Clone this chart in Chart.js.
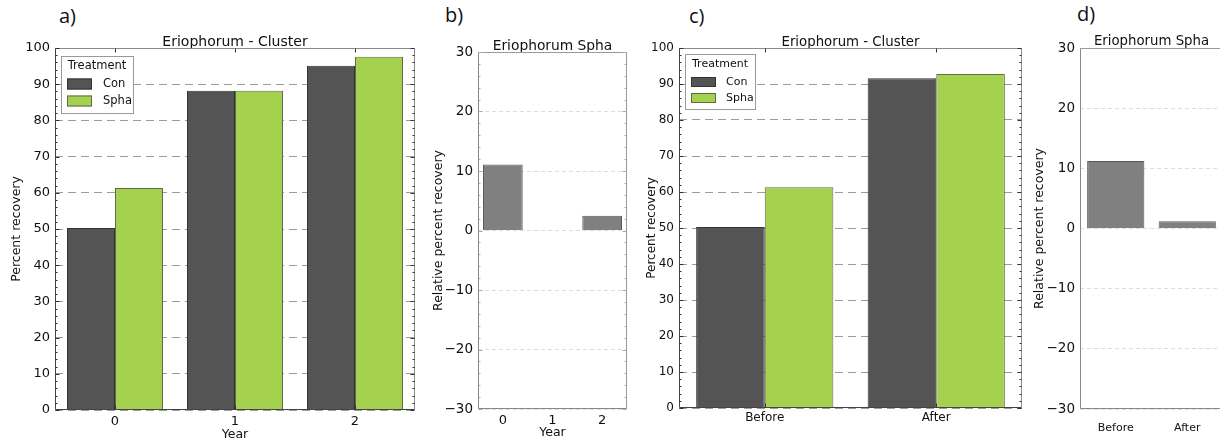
<!DOCTYPE html>
<html><head><meta charset="utf-8">
<script src="https://cdn.jsdelivr.net/npm/chart.js@4.4.0/dist/chart.umd.min.js"></script>
<style>
html,body{margin:0;padding:0;background:#fff;overflow:hidden;width:1220px;height:442px;}
.cv{position:absolute;top:0;}
.lab{position:absolute;font-family:'Open Sans',sans-serif;font-size:20px;color:#111;line-height:20px;}
</style></head><body>
<div class="lab" style="left:59px;top:6px">a)</div>
<div class="lab" style="left:445px;top:5px">b)</div>
<div class="lab" style="left:689px;top:6px">c)</div>
<div class="lab" style="left:1077px;top:4px">d)</div>
<canvas id="ca" class="cv" style="left:0px;width:430px;height:442px" width="430" height="442"></canvas>
<canvas id="cb" class="cv" style="left:425px;width:210px;height:442px" width="210" height="442"></canvas>
<canvas id="cc" class="cv" style="left:635px;width:390px;height:442px" width="390" height="442"></canvas>
<canvas id="cd" class="cv" style="left:1022px;width:205px;height:442px" width="205" height="442"></canvas>
<script>
// ---------------- data ----------------
const yearCats = ['0', '1', '2'];
const periodCats = ['Before', 'After'];
const yearCon = [50.3, 88.2, 95.1];
const yearSpha = [61.3, 88.2, 97.6];
const yearRel = [11.1, 0.1, 2.5];
const periodCon = [50.3, 91.6];
const periodSpha = [61.3, 92.8];
const periodRel = [11.2, 1.2];
const seriesNames = ['Con', 'Spha'];
const pctRange = [0, 100];
const relRange = [-30, 30];

// ---------------- styles ----------------
const FONT = 'DejaVu Sans';
const TXT = '#111';
const CON_FILL = '#545454', CON_EDGE = '#333333';
const SPHA_FILL = '#a4d24f', SPHA_EDGE = '#5f6a4a';
const REL_FILL = '#808080', REL_EDGE = '#555555';

function fmtTick(v) { return v < 0 ? '\u2212' + Math.abs(v) : String(v); }

const panelTitle = {
  id: 'panelTitle',
  afterDraw(chart, args, o) {
    if (!o.text) return;
    const { ctx, chartArea: a } = chart;
    ctx.save();
    ctx.font = o.size + 'px ' + FONT;
    ctx.fillStyle = TXT;
    ctx.textAlign = 'center';
    ctx.textBaseline = 'alphabetic';
    ctx.fillText(o.text, (a.left + a.right) / 2, a.top - o.gap);
    ctx.restore();
  }
};

const framePlugin = {
  id: 'frame',
  afterDraw(chart, args, o) {
    const { ctx, chartArea: a } = chart;
    const x = chart.scales.x, y = chart.scales.y;
    const L = Math.round(a.left) + 0.5, R = Math.round(a.right) - 0.5;
    const T = Math.round(a.top) + 0.5, B = Math.round(a.bottom) - 0.5;
    ctx.save();
    ctx.lineWidth = 1;
    function seg(x1, y1, x2, y2, c) { ctx.strokeStyle = c; ctx.beginPath(); ctx.moveTo(x1, y1); ctx.lineTo(x2, y2); ctx.stroke(); }
    seg(L, T, R, T, o.light);
    seg(R, T, R, B, o.light);
    seg(L, T, L, B, o.dark);
    seg(L, B, R, B, o.dark);
    if (o.minor) {
      for (let v = y.min; v <= y.max + 1e-9; v += o.minor) {
        const py = Math.round(y.getPixelForValue(v)) + 0.5;
        const isMaj = Math.abs(Math.round(v)) % o.major === 0;
        const len = isMaj ? 4 : 2;
        seg(L, py, L + len, py, o.tick);
        seg(R - len, py, R, py, o.tick);
      }
    }
    if (o.xTicks) {
      for (let i = 0; i < x.ticks.length; i++) {
        const px = Math.round(x.getPixelForTick(i)) + 0.5;
        seg(px, T, px, T + 4, o.tick);
        seg(px, B, px, B - 4, o.tick);
      }
    }
    ctx.restore();
  }
};

const boxLegend = {
  id: 'boxLegend',
  afterDraw(chart, args, o) {
    if (!o.show) return;
    const { ctx, chartArea: a } = chart;
    const x0 = Math.round(a.left + o.dx), y0 = Math.round(a.top + o.dy);
    ctx.save();
    ctx.fillStyle = '#fff';
    ctx.fillRect(x0, y0, o.w, o.h);
    ctx.strokeStyle = '#9a9a9a';
    ctx.lineWidth = 1;
    ctx.strokeRect(x0 + 0.5, y0 + 0.5, o.w, o.h);
    ctx.font = o.size + 'px ' + FONT;
    ctx.fillStyle = TXT;
    ctx.textAlign = 'center';
    ctx.textBaseline = 'middle';
    ctx.fillText(o.title, x0 + o.w / 2, y0 + o.titleY);
    chart.data.datasets.forEach((ds, i) => {
      const ry = Math.round(y0 + o.row0 + i * o.rowH);
      ctx.fillStyle = ds.backgroundColor;
      ctx.fillRect(x0 + o.sx, ry - o.sh / 2, o.sw, o.sh);
      ctx.strokeStyle = ds.borderColor;
      ctx.strokeRect(x0 + o.sx + 0.5, ry - o.sh / 2 + 0.5, o.sw - 1, o.sh - 1);
      ctx.fillStyle = TXT;
      ctx.textAlign = 'left';
      ctx.fillText(ds.label, x0 + o.tx, ry);
    });
    ctx.restore();
  }
};

function groupDatasets(con, spha) {
  return [
    { label: seriesNames[0], data: con, backgroundColor: CON_FILL, borderColor: CON_EDGE, borderWidth: 1, categoryPercentage: 0.8, barPercentage: 1 },
    { label: seriesNames[1], data: spha, backgroundColor: SPHA_FILL, borderColor: SPHA_EDGE, borderWidth: 1, categoryPercentage: 0.8, barPercentage: 1 }
  ];
}
function relDataset(vals) {
  return [{ label: 'Spha', data: vals, backgroundColor: REL_FILL, borderColor: REL_EDGE, borderWidth: 1, categoryPercentage: 0.8, barPercentage: 1 }];
}

function build(id, p) {
  return new Chart(document.getElementById(id), {
    type: 'bar',
    data: { labels: p.labels, datasets: p.datasets },
    options: {
      responsive: false, animation: false, devicePixelRatio: 1,
      layout: { padding: p.pad },
      plugins: {
        legend: { display: false }, tooltip: { enabled: false },
        panelTitle: p.title, frame: p.frame, boxLegend: p.legend || { show: false }
      },
      scales: {
        x: {
          offset: true,
          grid: { display: false, drawTicks: false },
          border: { display: false },
          ticks: { font: { family: FONT, size: p.xSize }, color: TXT, padding: p.xPad, maxRotation: 0 },
          title: { display: !!p.xTitle, text: p.xTitle || '', font: { family: FONT, size: 12.5 }, color: TXT, padding: { top: 0, bottom: p.xTitlePad || 0 } },
          afterFit(s) { s.height = p.xH; }
        },
        y: {
          min: p.range[0], max: p.range[1], z: p.gridOnTop ? 1 : 0,
          ticks: { stepSize: 10, font: { family: FONT, size: p.ySize }, color: TXT, padding: 5, callback: fmtTick },
          grid: { color: p.gridColor, lineWidth: 1, drawTicks: false },
          border: { display: false, dash: p.dash },
          title: { display: true, text: p.yTitle, font: { family: FONT, size: p.yTitleSize }, color: TXT, padding: { top: p.yTitlePad, bottom: 0 } },
          afterFit(s) { s.width = p.yW; }
        }
      }
    },
    plugins: [panelTitle, framePlugin, boxLegend]
  });
}

build('ca', {
  labels: yearCats, datasets: groupDatasets(yearCon, yearSpha), range: pctRange,
  pad: { left: 0, right: 15, top: 48, bottom: 0 }, yW: 55, xH: 32,
  xSize: 13, ySize: 13, xPad: 4, xTitle: 'Year', yTitle: 'Percent recovery', yTitleSize: 12.5, yTitlePad: 9.5,
  gridOnTop: true, gridColor: '#9c9c9c', dash: [8, 5],
  title: { text: 'Eriophorum - Cluster', size: 14, gap: 2 },
  frame: { light: '#8a8a8a', dark: '#444', tick: '#333', minor: 2, major: 10, xTicks: true },
  legend: { show: true, title: 'Treatment', size: 11.5, dx: 6, dy: 8, w: 72, h: 57, titleY: 10, row0: 27.5, rowH: 17.5, sx: 6, sw: 25, sh: 11, tx: 42 }
});

build('cb', {
  labels: yearCats, datasets: relDataset(yearRel), range: relRange,
  pad: { left: 0, right: 8, top: 52, bottom: 0 }, yW: 53, xH: 33,
  xSize: 13, ySize: 13.5, xPad: 4, xTitle: 'Year', xTitlePad: 2, yTitle: 'Relative percent recovery', yTitleSize: 12.5, yTitlePad: 6,
  gridOnTop: false, gridColor: '#dddddd', dash: [4, 3],
  title: { text: 'Eriophorum Spha', size: 13.8, gap: 2 },
  frame: { light: '#999', dark: '#888', tick: '#aaa', minor: 2, major: 10, xTicks: false }
});

build('cc', {
  labels: periodCats, datasets: groupDatasets(periodCon, periodSpha), range: pctRange,
  pad: { left: 0, right: 3, top: 48, bottom: 0 }, yW: 44, xH: 34,
  xSize: 12, ySize: 12, xPad: 3, yTitle: 'Percent recovery', yTitleSize: 12, yTitlePad: 10,
  gridOnTop: true, gridColor: '#9c9c9c', dash: [8, 5],
  title: { text: 'Eriophorum - Cluster', size: 13.3, gap: 2 },
  frame: { light: '#8a8a8a', dark: '#444', tick: '#333', minor: 2, major: 10, xTicks: true },
  legend: { show: true, title: 'Treatment', size: 11, dx: 6, dy: 6, w: 70, h: 55, titleY: 10, row0: 28, rowH: 16, sx: 6, sw: 25, sh: 10, tx: 41 }
});

build('cd', {
  labels: periodCats, datasets: relDataset(periodRel), range: relRange,
  pad: { left: 0, right: 4, top: 48, bottom: 0 }, yW: 58, xH: 33,
  xSize: 11, ySize: 13.5, xPad: 13, yTitle: 'Relative percent recovery', yTitleSize: 12.5, yTitlePad: 10.5,
  gridOnTop: false, gridColor: '#dddddd', dash: [4, 3],
  title: { text: 'Eriophorum Spha', size: 13.3, gap: 3 },
  frame: { light: '#999', dark: '#888', tick: '#bbb', minor: 0, major: 10, xTicks: false }
});
</script>
</body></html>
